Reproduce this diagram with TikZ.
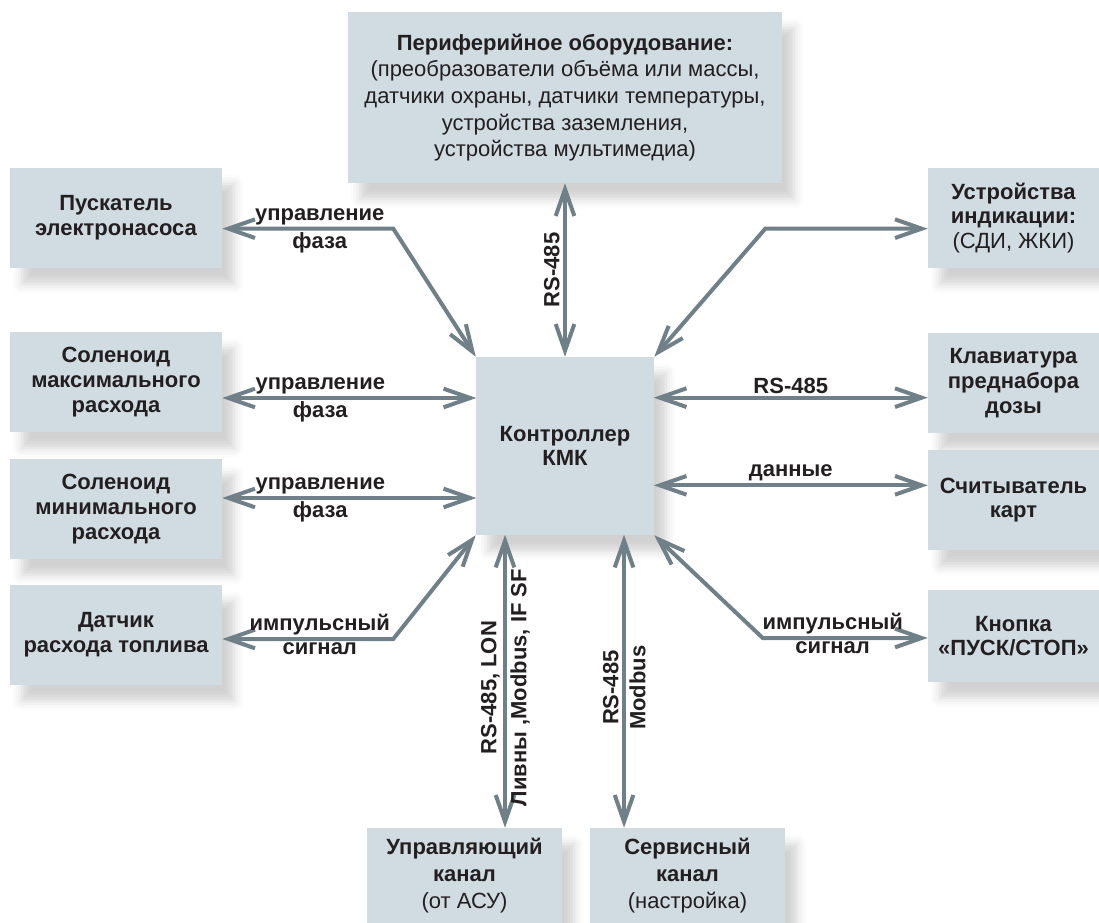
\documentclass[tikz,border=0pt]{standalone}
\usepackage{fontspec}
\setmainfont{Liberation Sans}
\usetikzlibrary{arrows.meta,positioning,shadows.blur}
\definecolor{boxfill}{HTML}{D0DBE2}
\definecolor{linegrey}{HTML}{6F8088}
\definecolor{ink}{HTML}{231F20}

\begin{document}
\begin{tikzpicture}[x=0.75pt, y=-0.75pt,
    unit/.style={rectangle, fill=boxfill, text=ink, align=center, inner sep=0pt,
        font=\bfseries\fontsize{16.5}{18.5}\selectfont,
        blur shadow={shadow xshift=9pt, shadow yshift=-12pt, shadow blur radius=7pt, shadow opacity=18}},
    side/.style={unit, minimum width=159pt, minimum height=75pt},
    rside/.style={unit, minimum width=128.25pt, minimum height=75pt},
    chan/.style={unit, minimum width=146.25pt, minimum height=71.25pt, font=\bfseries\fontsize{16.5}{20}\selectfont},
    lbl/.style={text=ink, font=\bfseries\fontsize{16.5}{18.5}\selectfont, inner sep=1.5pt},
    arrow/.style={<->, >={Straight Barb[length=20pt,width=14pt]}, line width=3pt, draw=linegrey}
]
\useasboundingbox (0,0) rectangle (1099,923);

% Centre
\node[unit, minimum width=133.5pt, minimum height=133.5pt] (ctrl) at (565,446) {Контроллер\\КМК};
\node[unit, minimum width=325.5pt, minimum height=128.25pt, font=\bfseries\fontsize{16.5}{20}\selectfont] (periph) at (565,97.5)
    {Периферийное оборудование:\\ \mdseries(преобразователи объёма или массы,\\ \mdseries датчики охраны, датчики температуры,\\ \mdseries устройства заземления,\\ \mdseries устройства мультимедиа)};

% Left column
\node[side] (pusk) at (116,218) {Пускатель\\электронасоса};
\node[side] (solmax) at (116,382) {Соленоид\\максимального\\расхода};
\node[side] (solmin) at (116,509) {Соленоид\\минимального\\расхода};
\node[side] (datch) at (116,635) {Датчик\\расхода топлива};

% Right column
\node[rside] (indik) at (1013.5,218) {Устройства\\индикации:\\ \mdseries(СДИ, ЖКИ)};
\node[rside] (klav) at (1013.5,383) {Клавиатура\\преднабора\\дозы};
\node[rside] (schit) at (1013.5,500) {Считыватель\\карт};
\node[rside, minimum height=69pt] (knop) at (1013.5,636) {Кнопка\\«ПУСК/СТОП»};

% Channels
\node[chan] (upr) at (464.5,875.5) {Управляющий\\канал\\ \mdseries(от АСУ)};
\node[chan] (serv) at (687.5,875.5) {Сервисный\\канал\\ \mdseries(настройка)};

% Arrows
\draw[arrow] ([yshift=-8pt]pusk.east) -- ++(171,0)
    node[lbl, pos=0.57, above] {управление} node[lbl, pos=0.57, below] {фаза} -- (ctrl.north west);
\draw[arrow] ([yshift=-12pt]solmax.east) -- ++(254,0)
    node[lbl, pos=0.386, above] {управление} node[lbl, pos=0.386, below] {фаза};
\draw[arrow] ([yshift=8.25pt]solmin.east) -- ++(254,0)
    node[lbl, pos=0.386, above] {управление} node[lbl, pos=0.386, below] {фаза};
\draw[arrow] ([yshift=-3pt]datch.east) -- ++(171,0)
    node[lbl, pos=0.57, above] {импульсный} node[lbl, pos=0.57, below] {сигнал} -- (ctrl.south west);

\draw[arrow] (periph.south) -- (ctrl.north) node[lbl, midway, rotate=90, above, inner sep=2.5pt] {RS-485};

\draw[arrow] (ctrl.north east) -- ++(111,-128) -- ([yshift=-8pt]indik.west);
\draw[arrow] ([yshift=-11pt]klav.west) -- ++(-274,0) node[lbl, midway, above] {RS-485};
\draw[arrow] ([yshift=11pt]schit.west) -- ++(-274,0) node[lbl, midway, above] {данные};
\draw[arrow] ([yshift=-1.5pt]knop.west) -- ++(-165,0)
    node[lbl, pos=0.576, above] {импульсный} node[lbl, pos=0.576, below] {сигнал} -- (ctrl.south east);

\draw[arrow] ([xshift=30.4pt]upr.north) -- ++(0,-293)
    node[lbl, pos=0.478, rotate=90, above, inner sep=2.5pt] {RS-485, LON}
    node[lbl, pos=0.478, rotate=90, below, inner sep=2.5pt] {Ливны ,Modbus, IF SF};
\draw[arrow] ([xshift=-47.6pt]serv.north) -- ++(0,-293)
    node[lbl, pos=0.478, rotate=90, above, inner sep=2.5pt] {RS-485}
    node[lbl, pos=0.478, rotate=90, below, inner sep=2.5pt] {Modbus};

\end{tikzpicture}
\end{document}
